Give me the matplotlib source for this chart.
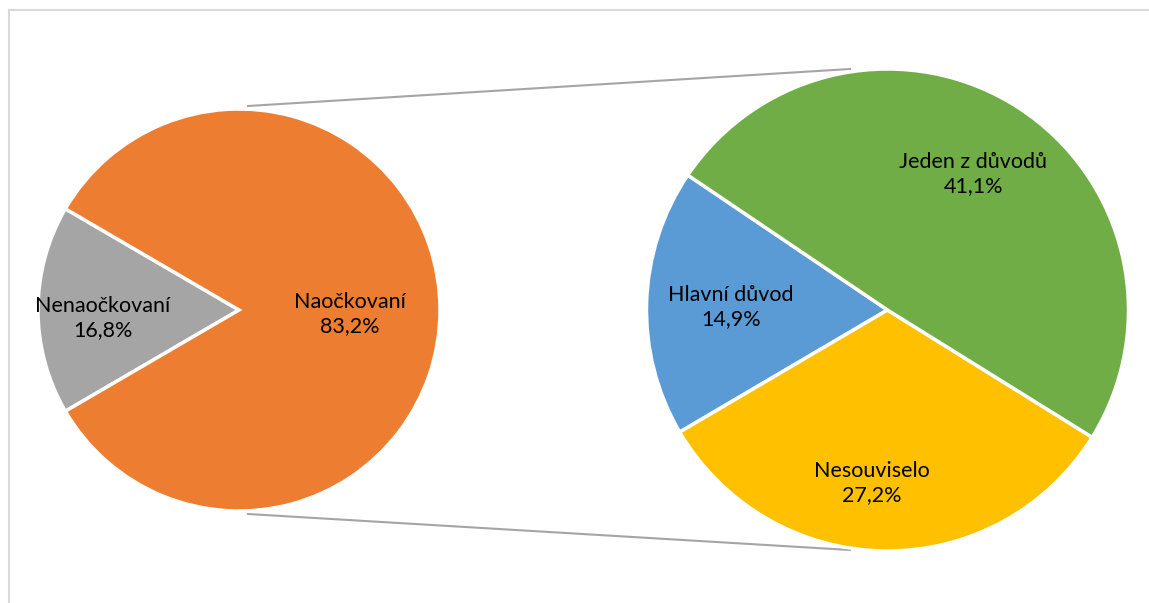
import matplotlib
matplotlib.use("Agg")
import matplotlib.pyplot as plt
from matplotlib.lines import Line2D

# Overall split of respondents
main_labels = ["Nenaočkovaní", "Naočkovaní"]
main_values = [16.8, 83.2]
main_colors = ["#a5a5a5", "#ed7d31"]

# Breakdown of the vaccinated share
sub_labels = ["Hlavní důvod", "Nesouviselo", "Jeden z důvodů"]
sub_values = [14.9, 27.2, 41.1]
sub_colors = ["#5b9bd5", "#ffc000", "#70ad47"]

W, H = 1149, 603
fig = plt.figure(figsize=(W / 100, H / 100), dpi=100)
ax = fig.add_axes([0, 0, 1, 1])

font = ["Lato", "DejaVu Sans"]
fs = 15.5

# chart frame (top and left edges)
fig.add_artist(Line2D([9 / W, 1], [1 - 10 / H, 1 - 10 / H], color="#d9d9d9", lw=1.5))
fig.add_artist(Line2D([9 / W, 9 / W], [0, 1 - 10 / H], color="#d9d9d9", lw=1.5))

c1, r1 = (239, H - 310), 201
c2, r2 = (887.5, H - 310), 241

total_main = sum(main_values)
start1 = 180 - main_values[0] / total_main * 360 / 2
ax.pie(main_values, colors=main_colors, startangle=start1, center=c1,
       radius=r1, frame=True,
       wedgeprops=dict(edgecolor="white", linewidth=2.5))

total_sub = sum(sub_values)
start2 = 180 - sub_values[0] / total_sub * 360 / 2 - 1.8
ax.pie(sub_values, colors=sub_colors, startangle=start2, center=c2,
       radius=r2, frame=True,
       wedgeprops=dict(edgecolor="white", linewidth=2.5))
ax.set_xlim(0, W)
ax.set_ylim(0, H)
ax.set_aspect("equal")
ax.axis("off")

# connector lines between the two pies
ax.plot([248, 850], [H - 106, H - 69], color="#a5a5a5", lw=1.5, zorder=0)
ax.plot([248, 850], [H - 514, H - 550], color="#a5a5a5", lw=1.5, zorder=0)

def fmt(v):
    return f"{v:.1f}".replace(".", ",") + "%"

label_pos_main = [(103, 318), (350, 314)]
for (x, y), lab, v in zip(label_pos_main, main_labels, main_values):
    ax.text(x, H - y, f"{lab}\n{fmt(v)}", ha="center", va="center",
            fontsize=fs, family=font, linespacing=1.3)

label_pos_sub = [(731, 307), (872, 483), (973, 174)]
for (x, y), lab, v in zip(label_pos_sub, sub_labels, sub_values):
    ax.text(x, H - y, f"{lab}\n{fmt(v)}", ha="center", va="center",
            fontsize=fs, family=font, linespacing=1.3)

fig.savefig("out.png", dpi=100, facecolor="white")
